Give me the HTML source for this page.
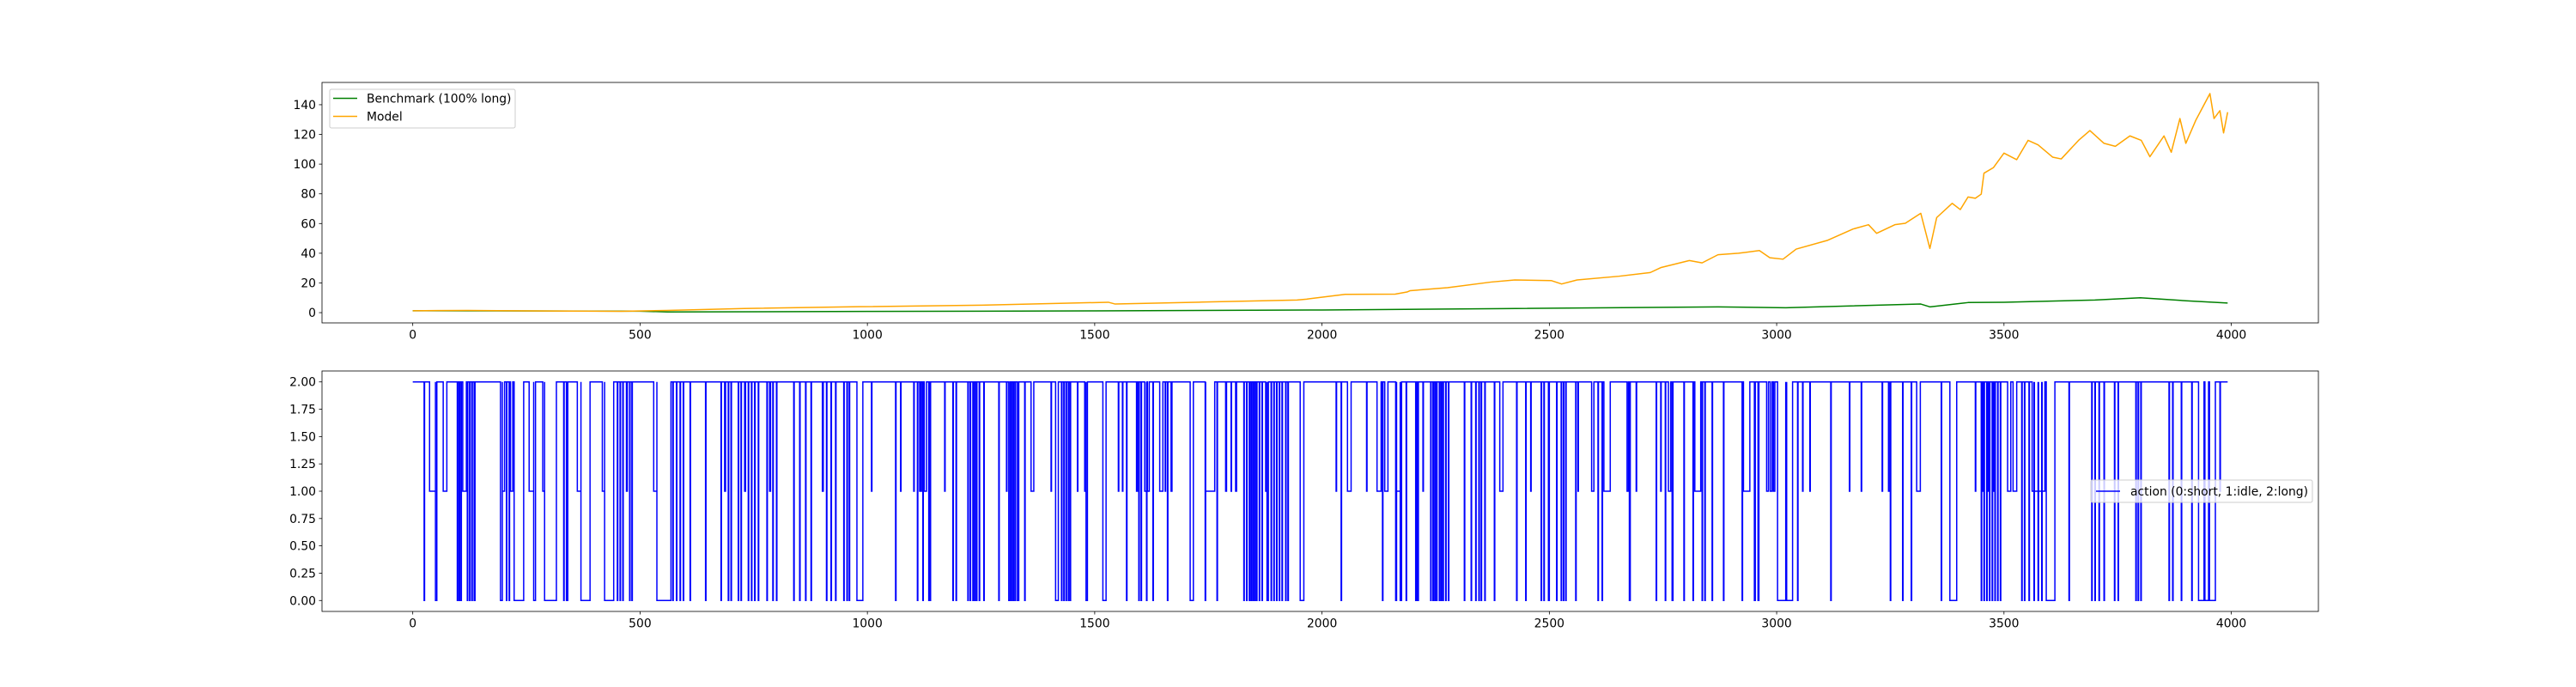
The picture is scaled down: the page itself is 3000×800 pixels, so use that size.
<!DOCTYPE html>
<html>
<head>
<meta charset="utf-8">
<style>
  html, body { margin: 0; padding: 0; background: #fff; }
  svg { display: block; }
  text { font-family: "DejaVu Sans", "Liberation Sans", sans-serif; font-size: 13.9px; fill: #000; }
</style>
</head>
<body>
<svg id="chart" width="3000" height="800" viewBox="0 0 3000 800" xmlns="http://www.w3.org/2000/svg">
  <rect x="0" y="0" width="3000" height="800" fill="#fff"/>
  <g id="top-panel"></g>
  <g id="bottom-panel"></g>
</svg>
<script>
// ---- data (top panel) ----
const modelX = [0,121,250,459,559,729,982,1250,1530,1545,1736,1945,1966,2051,2059,2161,2187,2194,2276,2372,2424,2504,2527,2561,2653,2722,2745,2808,2836,2871,2916,2962,2985,3014,3043,3111,3168,3202,3220,3260,3283,3317,3337,3352,3386,3404,3421,3437,3450,3456,3477,3500,3528,3553,3575,3607,3626,3664,3689,3720,3745,3777,3802,3821,3852,3868,3887,3900,3922,3934,3953,3962,3975,3983,3992];
const modelY = [1.3,1.5,1.2,0.9,1.5,2.8,4.0,5.0,7.0,5.8,7.1,8.5,9.1,12.3,12.3,12.5,13.9,14.8,16.8,20.6,22,21.6,19.3,22,24.5,27,30.3,35.1,33.5,39,40,41.8,37,36,42.8,48.6,56.3,59.2,53.4,59.2,60.2,66.9,43.2,64,73.6,69.4,77.9,77,79.8,93.9,97.7,107.4,103,116,113,104.7,103.5,116,122.6,114,112,119,116,105,119,108,130.7,114,129.6,136.5,147.5,130.7,136,121,135];
const benchX = [0,500,560,1000,1500,2000,2400,2871,3020,3317,3337,3421,3500,3700,3800,3900,3992];
const benchY = [1.3,1.0,0.5,0.8,1.2,1.8,2.7,3.9,3.3,5.8,3.9,6.8,7.0,8.5,10,8,6.5];
const xTicks = [0,500,1000,1500,2000,2500,3000,3500,4000];
const topYTicks = [0,20,40,60,80,100,120,140];
const botYTicks = [0,0.25,0.5,0.75,1.0,1.25,1.5,1.75,2.0];
const botYLabels = ["0.00","0.25","0.50","0.75","1.00","1.25","1.50","1.75","2.00"];
// ---- data (bottom panel): action dips below 2 as [start, end, level] ----
const actionDips = [
[25,26,0],[37,50,1],[50,53,0],[67,75,1],[98,99,0],[102,103,0],[106,107,0],[110,118,1],[120,121,0],[125,126,0],[130,131,0],[135,137,0],
[193,197,0],[197,202,1],[206,207,0],[212,213,0],[215,220,1],[223,244,0],[256,266,1],[266,270,0],[286,290,1],[290,316,0],[332,333,0],[338,341,0],
[362,370,1],[370,390,0],[417,422,1],[422,442,0],[450,451,0],[456,457,0],[462,463,0],[470,472,1],[477,478,0],[482,483,0],
[530,537,1],[537,568,0],[572,573,0],[580,581,0],[588,589,0],[595,596,0],[610,611,0],[644,645,0],[678,679,0],[686,688,1],[694,695,0],[700,701,0],
[716,717,0],[722,723,0],[730,732,1],[738,739,0],[745,746,0],[752,753,0],[760,761,0],[779,780,0],[785,787,1],[792,793,0],[800,801,0],
[838,839,0],[851,852,0],[864,865,0],[876,877,0],[901,903,1],[910,911,0],[920,921,0],[930,931,0],[948,949,0],[955,956,0],[960,961,0],[977,990,0],
[1009,1010,1],[1062,1063,0],[1073,1074,1],[1102,1103,1],[1110,1111,0],[1115,1116,1],[1118,1119,1],[1122,1123,0],[1125,1130,1],[1135,1136,0],[1138,1139,0],
[1170,1171,1],[1188,1189,0],[1195,1196,0],[1221,1222,0],[1226,1227,0],[1232,1233,0],[1236,1237,0],[1240,1241,0],[1246,1247,0],[1256,1257,0],
[1289,1290,0],[1306,1307,1],[1311,1314,0],[1317,1318,0],[1321,1322,0],[1325,1326,0],[1330,1333,0],[1346,1347,0],[1360,1366,1],[1404,1405,1],
[1414,1420,0],[1427,1428,0],[1432,1433,0],[1437,1438,0],[1442,1443,0],[1446,1447,0],[1462,1463,1],[1478,1481,1],[1481,1484,0],[1518,1525,0],
[1552,1553,1],[1561,1562,1],[1570,1571,0],[1592,1594,1],[1597,1598,0],[1602,1603,0],[1610,1614,1],[1614,1615,0],[1616,1620,1],[1628,1629,0],
[1643,1650,1],[1655,1656,1],[1660,1661,0],[1668,1670,1],[1710,1717,0],[1743,1744,0],[1744,1764,1],[1769,1770,0],[1788,1790,1],[1800,1801,1],[1810,1812,1],
[1828,1829,0],[1834,1835,0],[1840,1841,0],[1844,1845,0],[1848,1849,0],[1852,1853,0],[1856,1857,0],[1862,1863,0],[1868,1869,0],
[1876,1879,1],[1879,1882,0],[1888,1889,0],[1894,1895,0],[1900,1901,0],[1906,1907,0],[1912,1913,0],[1920,1921,0],[1925,1926,0],[1952,1960,0],[2031,2032,1],
[2042,2043,0],[2056,2064,1],[2098,2099,1],[2121,2130,1],[2133,2134,0],[2138,2145,1],[2162,2164,0],[2164,2172,1],[2172,2175,0],[2185,2186,0],[2206,2208,0],[2210,2212,0],[2222,2223,1],
[2239,2240,0],[2244,2245,0],[2248,2249,0],[2252,2253,0],[2258,2259,0],[2262,2263,0],[2266,2267,0],[2272,2273,0],[2278,2279,0],[2313,2314,0],
[2328,2329,0],[2338,2339,0],[2345,2346,0],[2350,2351,0],[2358,2359,0],[2379,2380,0],[2391,2398,1],[2428,2429,0],[2448,2449,0],[2459,2460,1],
[2482,2483,0],[2488,2489,0],[2498,2500,0],[2516,2517,0],[2526,2527,0],[2531,2532,0],[2536,2537,0],[2558,2559,0],[2563,2564,1],[2593,2598,1],
[2607,2608,0],[2616,2617,0],[2620,2634,1],[2671,2674,1],[2676,2678,0],[2691,2692,1],[2735,2736,0],[2745,2746,1],[2755,2756,0],[2762,2767,1],[2770,2772,0],
[2796,2797,0],[2816,2817,0],[2820,2833,1],[2836,2837,0],[2842,2843,0],[2858,2859,0],[2883,2884,0],[2924,2925,0],[2927,2941,1],[2951,2953,0],[2959,2961,0],
[2978,2982,1],[2986,2990,1],[2993,2996,1],[3002,3020,0],[3020,3022,1],[3022,3035,0],[3046,3047,0],[3057,3058,1],[3073,3074,1],[3119,3120,0],
[3160,3161,1],[3186,3187,1],[3232,3233,1],[3246,3249,1],[3250,3251,0],[3277,3278,0],[3296,3297,0],[3308,3316,1],[3362,3363,0],[3381,3396,0],[3437,3438,1],
[3450,3451,0],[3453,3454,1],[3456,3457,0],[3462,3463,0],[3465,3466,1],[3468,3469,0],[3474,3475,0],[3477,3478,1],[3480,3481,0],[3486,3487,0],[3492,3493,0],
[3508,3515,1],[3520,3528,1],[3539,3540,0],[3545,3546,0],[3555,3556,0],[3562,3566,1],[3566,3567,0],[3567,3575,1],[3575,3576,0],[3576,3583,1],[3583,3584,0],[3584,3590,1],
[3593,3612,0],[3643,3644,0],[3693,3694,0],[3700,3701,0],[3709,3710,0],[3720,3721,0],[3743,3744,0],[3751,3752,0],[3790,3791,0],[3795,3796,0],[3801,3802,0],
[3863,3864,0],[3871,3872,0],[3890,3891,0],[3913,3914,0],[3928,3940,0],[3942,3950,0],[3952,3965,0],[3975,3976,1]
];
const actionEnd = 3992;

// ---- layout ----
const L = 375, R = 2700;
const xMin = -199.6, xMax = 4191.6;
const topP = {t: 96, b: 376, yMin: -6.9, yMax: 155};
const botP = {t: 432, b: 712, yMin: -0.1, yMax: 2.1};
const NS = "http://www.w3.org/2000/svg";
function xs(v) { return L + (v - xMin) / (xMax - xMin) * (R - L); }
function ys(p, v) { return p.b - (v - p.yMin) / (p.yMax - p.yMin) * (p.b - p.t); }
function mk(tag, attrs, parent) {
  const e = document.createElementNS(NS, tag);
  for (const k in attrs) e.setAttribute(k, attrs[k]);
  parent.appendChild(e);
  return e;
}

function drawAxes(g, p, yt, ylabels, prefix) {
  for (let i = 0; i < xTicks.length; i++) {
    const x = xs(xTicks[i]);
    mk("line", {x1: x, x2: x, y1: p.b, y2: p.b + 3.5, stroke: "#000", "stroke-width": 0.8}, g);
    const t = mk("text", {x: x, y: p.b + 18.5, "text-anchor": "middle"}, g);
    t.textContent = String(xTicks[i]);
    
    
  }
  for (let i = 0; i < yt.length; i++) {
    const y = ys(p, yt[i]);
    mk("line", {x1: L - 3.5, x2: L, y1: y, y2: y, stroke: "#000", "stroke-width": 0.8}, g);
    const t = mk("text", {x: L - 7, y: y + 5, "text-anchor": "end"}, g);
    t.textContent = ylabels[i];
    
    
  }
}

function linePath(X, Y, p) {
  let d = "";
  for (let i = 0; i < X.length; i++) d += (i ? "L" : "M") + xs(X[i]).toFixed(2) + "," + ys(p, Y[i]).toFixed(2);
  return d;
}

// top panel
const gt = document.getElementById("top-panel");
drawAxes(gt, topP, topYTicks, topYTicks.map(String), "top");
const bench = mk("path", {d: linePath(benchX, benchY, topP), fill: "none", stroke: "#008000", "stroke-width": 1.5, "stroke-linejoin": "round"}, gt);


const model = mk("path", {d: linePath(modelX, modelY, topP), fill: "none", stroke: "#FFA500", "stroke-width": 1.5, "stroke-linejoin": "round"}, gt);


mk("rect", {x: L, y: topP.t, width: R - L, height: topP.b - topP.t, fill: "none", stroke: "#000", "stroke-width": 0.8}, gt);

// top legend
const lg = mk("g", {}, gt);


mk("rect", {x: 384, y: 104, width: 216, height: 45, rx: 2, fill: "#fff", "fill-opacity": 0.8, stroke: "#ccc", "stroke-width": 1}, lg);
mk("line", {x1: 388, x2: 416, y1: 114.5, y2: 114.5, stroke: "#008000", "stroke-width": 1.5}, lg);
const lt1 = mk("text", {x: 427, y: 119.5}, lg);
lt1.textContent = "Benchmark (100% long)";


mk("line", {x1: 388, x2: 416, y1: 135.5, y2: 135.5, stroke: "#FFA500", "stroke-width": 1.5}, lg);
const lt2 = mk("text", {x: 427, y: 140.5}, lg);
lt2.textContent = "Model";



// bottom panel
const gb = document.getElementById("bottom-panel");
drawAxes(gb, botP, botYTicks, botYLabels, "bottom");
let d = "M" + xs(0).toFixed(2) + "," + ys(botP, 2).toFixed(2);
for (const dip of actionDips) {
  const s = xs(dip[0]).toFixed(2), e = xs(dip[1]).toFixed(2);
  d += "L" + s + "," + ys(botP, 2).toFixed(2) + "L" + s + "," + ys(botP, dip[2]).toFixed(2) +
       "L" + e + "," + ys(botP, dip[2]).toFixed(2) + "L" + e + "," + ys(botP, 2).toFixed(2);
}
d += "L" + xs(actionEnd).toFixed(2) + "," + ys(botP, 2).toFixed(2);
const act = mk("path", {d: d, fill: "none", stroke: "#0000FF", "stroke-width": 1.5, "stroke-linejoin": "miter"}, gb);


mk("rect", {x: L, y: botP.t, width: R - L, height: botP.b - botP.t, fill: "none", stroke: "#000", "stroke-width": 0.8}, gb);

// bottom legend
const lb = mk("g", {}, gb);


mk("rect", {x: 2435, y: 559, width: 258, height: 26, rx: 2, fill: "#fff", "fill-opacity": 0.8, stroke: "#ccc", "stroke-width": 1}, lb);
mk("line", {x1: 2441, x2: 2469, y1: 572, y2: 572, stroke: "#0000FF", "stroke-width": 1.5}, lb);
const lt3 = mk("text", {x: 2481, y: 577}, lb);
lt3.textContent = "action (0:short, 1:idle, 2:long)";


</script>
</body>
</html>
